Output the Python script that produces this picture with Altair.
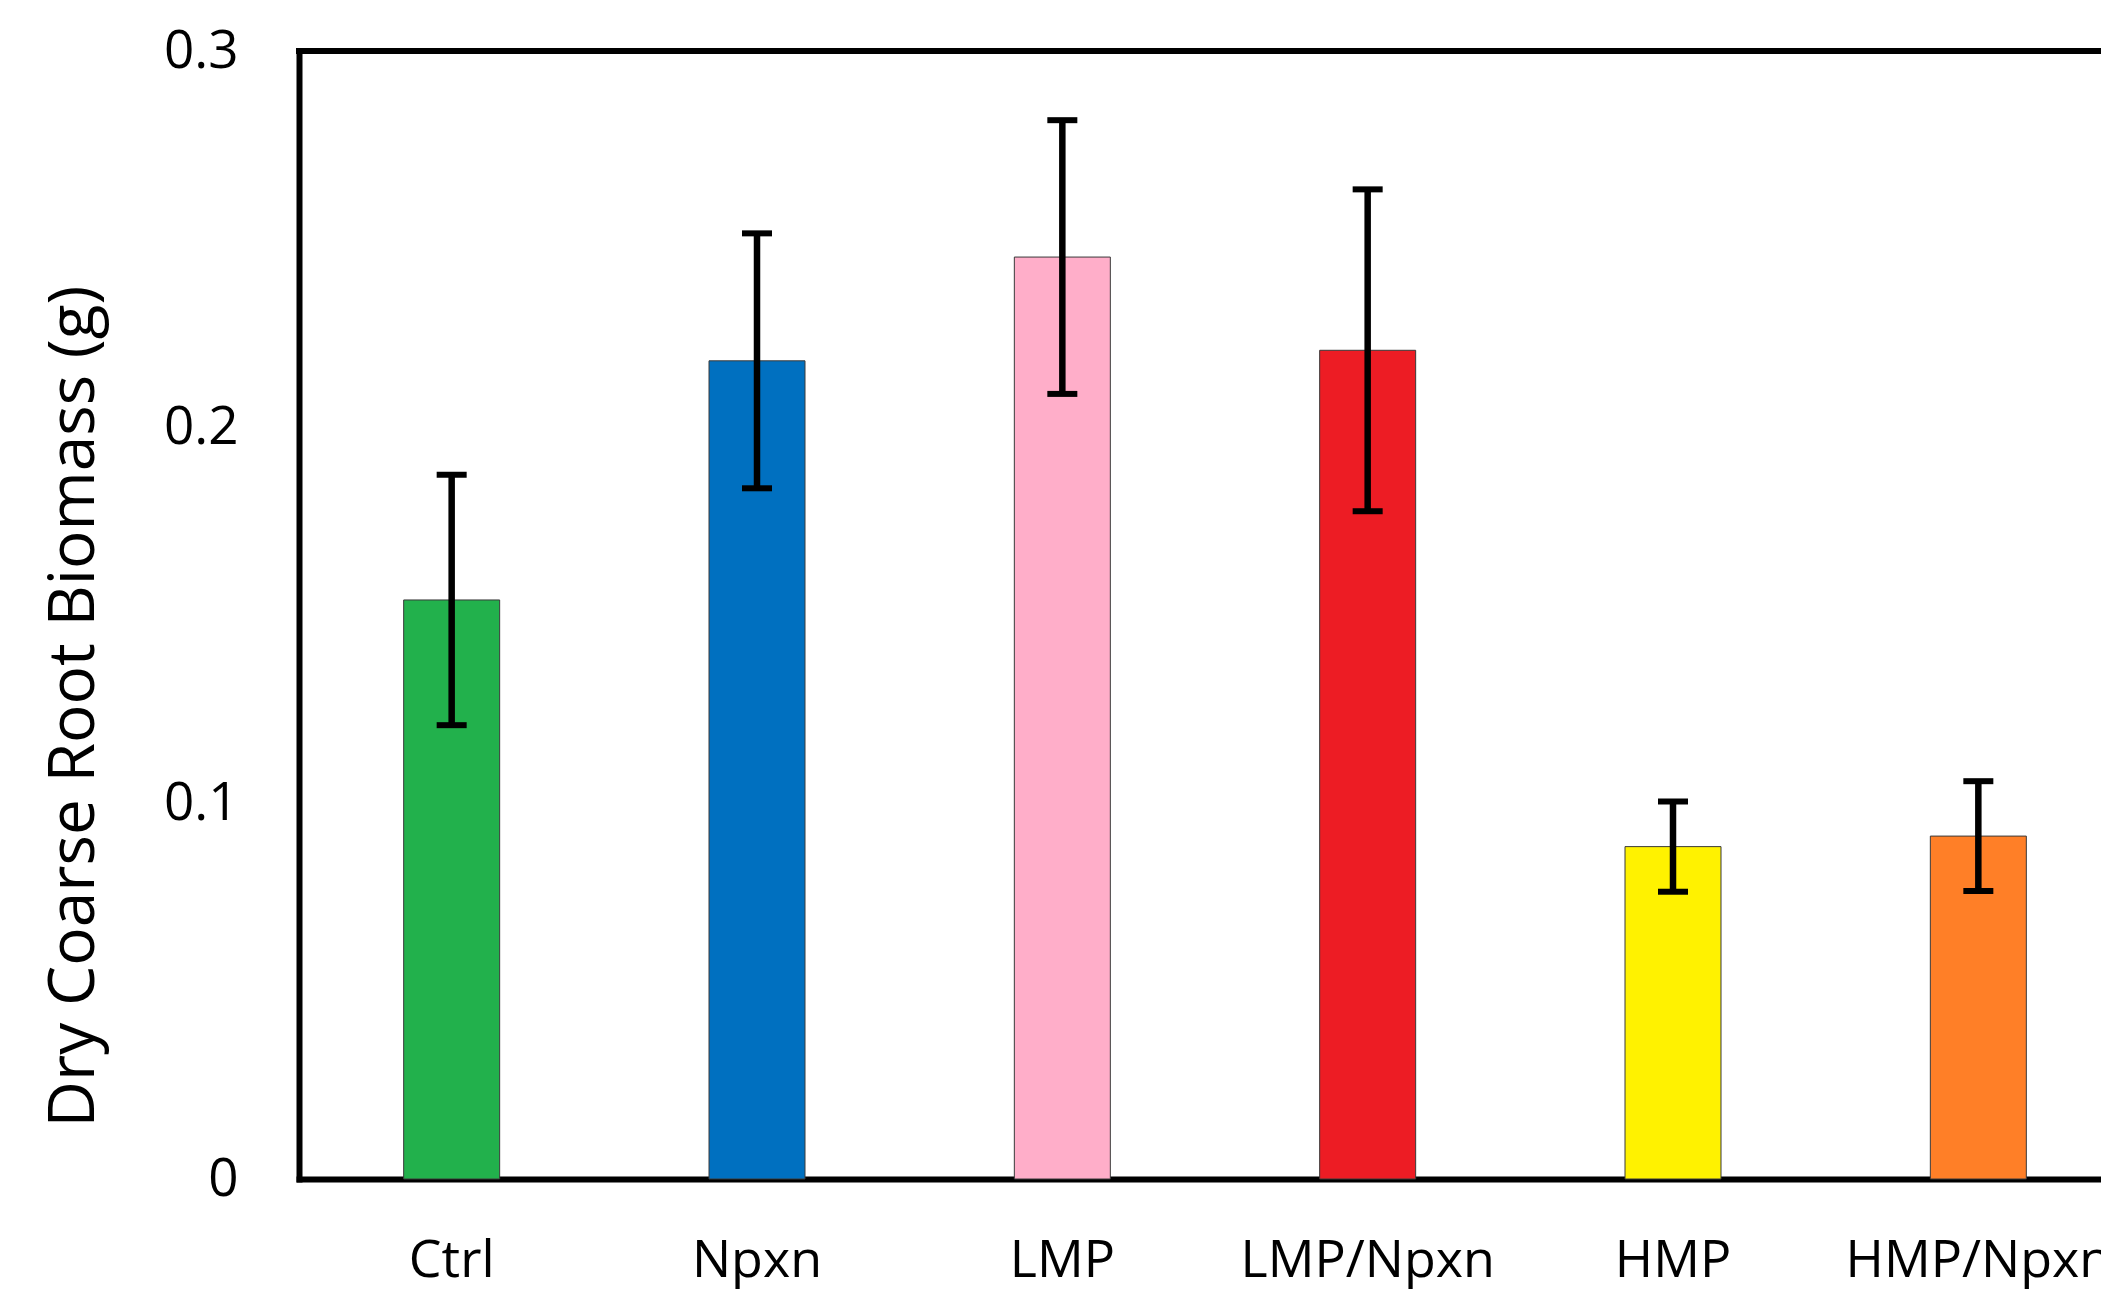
import altair as alt
import pandas as pd

# Data
categories = ["Ctrl", "Npxn", "LMP", "LMP/Npxn", "HMP", "HMP/Npxn"]
means = [0.154, 0.2176, 0.2452, 0.2204, 0.0884, 0.0912]
errors = [0.0333, 0.0339, 0.0364, 0.0428, 0.0120, 0.0146]
colors = ["#22B14C", "#0070C0", "#FFAEC9", "#ED1C24", "#FFF200", "#FF7F27"]
y_ticks = [0, 0.1, 0.2, 0.3]

df = pd.DataFrame({
    "cat": categories,
    "mean": means,
    "lo": [m - e for m, e in zip(means, errors)],
    "hi": [m + e for m, e in zip(means, errors)],
})
frame_df = pd.DataFrame({"top": [max(y_ticks)]})

FONT = "Open Sans"
PLOT_W = 1802
PLOT_H = 1128

x_enc = alt.X(
    "cat:N",
    sort=categories,
    scale=alt.Scale(domain=categories, range=[0, 1832], paddingInner=0, paddingOuter=0),
    axis=alt.Axis(
        title=None, labelAngle=0, ticks=False, tickSize=0, labelPadding=97,
        labelBaseline="alphabetic", labelFont=FONT, labelFontSize=52,
        labelColor="black", domainColor="black", domainWidth=6,
        domainCap="square", grid=False, labelOverlap=False, labelLimit=0,
    ),
)
y_scale = alt.Scale(domain=[0, 0.3], nice=False, zero=True)
y_enc = alt.Y(
    "mean:Q",
    scale=y_scale,
    axis=alt.Axis(
        title="Dry Coarse Root Biomass (g)", values=y_ticks, format=".1~f",
        ticks=False, tickSize=0, labelPadding=61, labelFont=FONT,
        labelFontSize=53, labelColor="black", domainColor="black",
        domainWidth=6, domainCap="square", grid=False,
        titleFont=FONT, titleFontSize=64, titleFontWeight="normal",
        titleColor="black", titleAngle=-90, titleX=-206, titleY=655,
        titleAlign="center", titleBaseline="alphabetic",
    ),
)

bars = alt.Chart(df).mark_bar(size=96, stroke="#3a3a3a", strokeWidth=1).encode(
    x=x_enc,
    y=y_enc,
    color=alt.Color("cat:N", scale=alt.Scale(domain=categories, range=colors), legend=None),
)

err_line = alt.Chart(df).mark_rule(color="black", strokeWidth=6.5, opacity=1).encode(
    x=alt.X("cat:N", sort=categories),
    y=alt.Y("lo:Q", scale=y_scale),
    y2="hi:Q",
)
cap_lo = alt.Chart(df).mark_tick(color="black", size=30, thickness=6, opacity=1).encode(
    x=alt.X("cat:N", sort=categories),
    y=alt.Y("lo:Q", scale=y_scale),
)
cap_hi = alt.Chart(df).mark_tick(color="black", size=30, thickness=6, opacity=1).encode(
    x=alt.X("cat:N", sort=categories),
    y=alt.Y("hi:Q", scale=y_scale),
)
top_border = alt.Chart(frame_df).mark_rule(color="black", strokeWidth=6, strokeCap="square").encode(
    y=alt.Y("top:Q", scale=y_scale),
)

chart = alt.layer(bars, err_line, cap_lo, cap_hi, top_border).properties(
    width=PLOT_W,
    height=PLOT_H,
    autosize=alt.AutoSizeParams(type="none"),
    padding={"left": 299, "top": 51, "right": 0, "bottom": 113},
    background="white",
).configure_view(stroke=None)

chart.save("out.html", embed_options={"renderer": "svg", "actions": False})
